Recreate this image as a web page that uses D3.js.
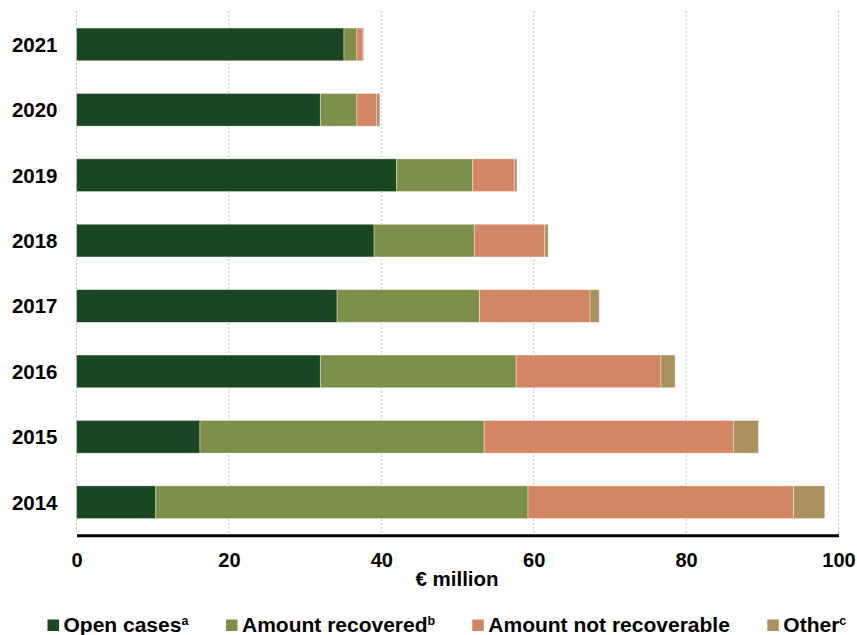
<!DOCTYPE html>
<html><head><meta charset="utf-8">
<script src="https://cdn.jsdelivr.net/npm/d3@7"></script>
<style>
body{margin:0;background:#fff;}
text{font-family:"Liberation Sans",Arial,sans-serif;font-weight:bold;fill:#000;}
</style></head>
<body><svg id="c" width="857" height="635"></svg>
<script>
const years = ["2021","2020","2019","2018","2017","2016","2015","2014"];
const openCases      = [35.1, 32.0, 42.0, 39.05, 34.2, 32.0, 16.2, 10.4];
const amtRecovered   = [1.7, 4.8, 10.0, 13.15, 18.7, 25.7, 37.3, 48.85];
const amtNotRecov    = [0.8, 2.55, 5.45, 9.25, 14.5, 19.0, 32.7, 34.85];
const other          = [0.1, 0.45, 0.35, 0.45, 1.2, 1.85, 3.3, 4.1];
const xTicks = [0, 20, 40, 60, 80, 100];
const seriesNames = ["Open cases", "Amount recovered", "Amount not recoverable", "Other"];
const seriesSup = ["a", "b", "", "c"];
const colors = ["#1a4621", "#7d904a", "#d38664", "#ab915f"];

const svg = d3.select("#c");
const x = d3.scaleLinear().domain([0, 100]).range([76.5, 838.5]);
const y = d3.scaleBand().domain(years).range([11.7, 534.9]).paddingInner(0.5).paddingOuter(0.25);

const rows = years.map((yr, i) => ({year: yr, s0: openCases[i], s1: amtRecovered[i], s2: amtNotRecov[i], s3: other[i]}));
const stacked = d3.stack().keys(["s0","s1","s2","s3"])(rows);

// gridlines
svg.append("g").selectAll("line").data(xTicks).join("line")
  .attr("x1", d => x(d)).attr("x2", d => x(d))
  .attr("y1", 11).attr("y2", 534)
  .attr("stroke", "#c4c4c4").attr("stroke-width", 1).attr("stroke-dasharray", "2,2");

// bars
svg.append("g").selectAll("g").data(stacked).join("g")
  .attr("fill", (d, i) => colors[i])
  .selectAll("rect").data(d => d).join("rect")
  .attr("x", d => x(d[0])).attr("width", d => x(d[1]) - x(d[0]))
  .attr("y", d => y(d.data.year)).attr("height", y.bandwidth())
  .attr("stroke", "rgba(255,255,255,0.45)").attr("stroke-width", 0.8);

// y labels
svg.append("g").selectAll("text").data(years).join("text")
  .attr("x", 57.5).attr("y", d => y(d) + y.bandwidth() / 2)
  .attr("dy", "0.36em").attr("text-anchor", "end")
  .style("font-size", "20.5px").text(d => d);

// x axis
const xAxis = d3.axisBottom(x).tickValues(xTicks).tickSize(0).tickPadding(0).tickFormat(d3.format("d"));
const ax = svg.append("g").attr("transform", "translate(0,535.3)").call(xAxis);
ax.select(".domain").attr("stroke", "#000").attr("stroke-width", 3);
ax.selectAll(".tick text").attr("y", 32).attr("dy", 0)
  .style("font-size", "20px").style("font-family", "'Liberation Sans',Arial,sans-serif").style("font-weight", "bold").attr("fill", "#000");

svg.append("text").attr("x", 457).attr("y", 586).attr("text-anchor", "middle")
  .style("font-size", "20.5px").text("€ million");

// legend
const legX = [47.5, 226, 472.3, 767.3];
const leg = svg.append("g").selectAll("g").data(seriesNames).join("g")
  .attr("transform", (d, i) => `translate(${legX[i]},0)`);
leg.append("rect").attr("x", 0).attr("y", 619.5).attr("width", 11.5).attr("height", 11.5)
  .attr("fill", (d, i) => colors[i]);
const lt = leg.append("text").attr("x", 16).attr("y", 632).style("font-size", "21px");
lt.append("tspan").text(d => d);
lt.append("tspan").attr("dy", -7).style("font-size", "12.5px").text((d, i) => seriesSup[i]);
</script></body></html>
